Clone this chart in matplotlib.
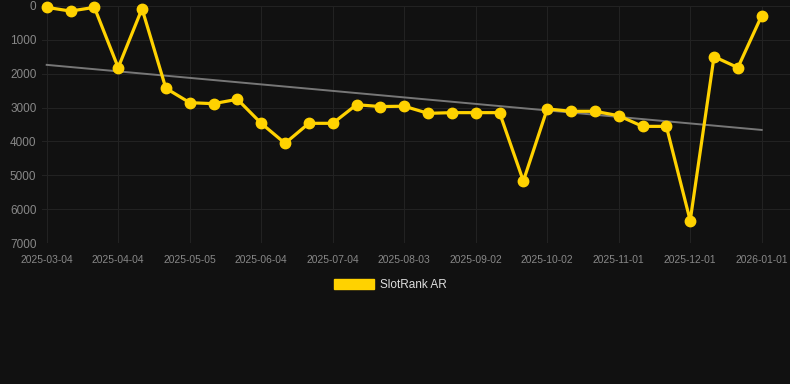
import numpy as np
import matplotlib
matplotlib.use("Agg")
import matplotlib.pyplot as plt
from matplotlib.patches import Patch

plt.rcParams['font.family'] = ['Liberation Sans', 'DejaVu Sans']

dates = ["2025-03-04", "2025-03-14", "2025-03-24", "2025-04-04", "2025-04-14", "2025-04-24",
         "2025-05-05", "2025-05-15", "2025-05-25", "2025-06-04", "2025-06-14", "2025-06-24",
         "2025-07-04", "2025-07-14", "2025-07-24", "2025-08-03", "2025-08-13", "2025-08-23",
         "2025-09-02", "2025-09-12", "2025-09-22", "2025-10-02", "2025-10-12", "2025-10-22",
         "2025-11-01", "2025-11-11", "2025-11-21", "2025-12-01", "2025-12-11", "2025-12-21",
         "2026-01-01"]
rank = [40, 150, 40, 1820, 80, 2430, 2855, 2885, 2755, 3465, 4055, 3465, 3465, 2915, 2970,
        2960, 3170, 3150, 3150, 3150, 5170, 3040, 3110, 3110, 3240, 3555, 3555, 6340, 1495,
        1820, 285]
tick_dates = ["2025-03-04", "2025-04-04", "2025-05-05", "2025-06-04", "2025-07-04", "2025-08-03",
              "2025-09-02", "2025-10-02", "2025-11-01", "2025-12-01", "2026-01-01"]
y_ticks = [0, 1000, 2000, 3000, 4000, 5000, 6000, 7000]
series_name = "SlotRank AR"

bg = "#111111"
gold = "#FFD200"

xi = np.arange(len(dates))
y = np.array(rank, dtype=float)
coef = np.polyfit(xi, y, 1)
trend = np.polyval(coef, xi)

fig = plt.figure(figsize=(7.9, 3.84), dpi=100, facecolor=bg)
ax = fig.add_axes([42 / 790, 1 - 243 / 384, 748 / 790, (243 - 6) / 384])
ax.set_facecolor(bg)

ax.plot(xi, trend, color="#777777", lw=1.4, zorder=2)
ax.plot(xi, y, color=gold, lw=2.3, marker="o", markersize=7.5, zorder=3, clip_on=False)

ax.set_ylim(7000, 0)
ax.set_yticks(y_ticks)
ax.set_yticklabels([str(v) for v in y_ticks])
ax.set_xticks([dates.index(d) for d in tick_dates])
ax.set_xticklabels(tick_dates)
ppi = (761.7 - 46.7) / (len(dates) - 1)
ax.set_xlim(-(46.7 - 42) / ppi, (len(dates) - 1) + (790 - 761.7) / ppi)

ax.grid(True, color="#222222", lw=0.8)
ax.set_axisbelow(True)
for s in ax.spines.values():
    s.set_visible(False)
ax.tick_params(axis="both", length=0, colors="#888888")
ax.tick_params(axis="y", labelsize=8.5, pad=4)
ax.tick_params(axis="x", labelsize=7.4, pad=8.6)

handle = Patch(facecolor=gold, edgecolor=gold)
leg = fig.legend([handle], [series_name], loc="center", bbox_to_anchor=(0.494, 1 - 285 / 384),
                 frameon=False, fontsize=8.5, handlelength=3.4, handleheight=0.9,
                 handletextpad=0.5, labelcolor="#dddddd")

fig.savefig("out.png", dpi=100, facecolor=bg)
